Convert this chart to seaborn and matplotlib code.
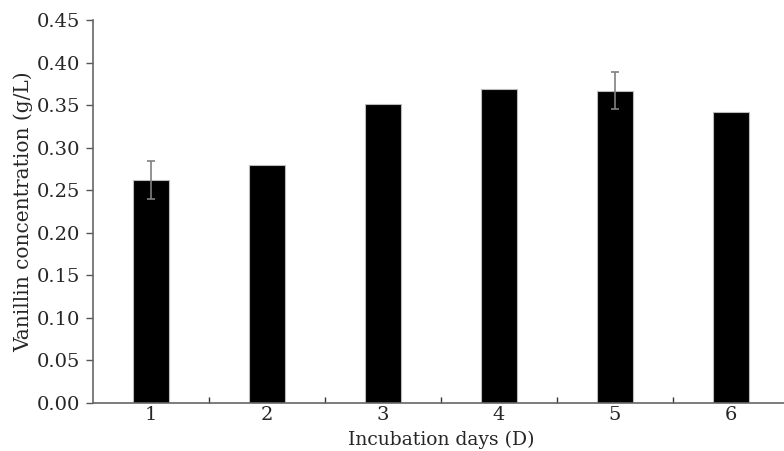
import pandas as pd
import seaborn as sns
import matplotlib.pyplot as plt
import numpy as np

# Data
days = ["1", "2", "3", "4", "5", "6"]
vanillin = [0.262, 0.280, 0.351, 0.369, 0.367, 0.342]
errors = [0.022, 0.0, 0.0, 0.0, 0.022, 0.0]

df = pd.DataFrame({"day": days, "vanillin": vanillin, "err": errors})

sns.set_style("white")
plt.rcParams["font.family"] = ["DejaVu Serif"]

fig = plt.figure(figsize=(7.84, 4.51), dpi=100)
ax = fig.add_axes([93 / 784, 48 / 451, 696 / 784, 383 / 451])

sns.barplot(data=df, x="day", y="vanillin", color="black", width=0.31,
            edgecolor="#bbbbbb", linewidth=0.8, saturation=1, ax=ax)

# error bars only where they were measured
with_err = df[df["err"] > 0]
ax.errorbar(with_err.index, with_err["vanillin"], yerr=with_err["err"],
            fmt="none", ecolor="#808080", elinewidth=1.2, capsize=3, capthick=1.2)

ax.set_xlim(-0.5, 5.5)
ax.set_ylim(0, 0.45)
ax.set_yticks(np.arange(0, 0.451, 0.05))
ax.set_yticklabels([f"{v:.2f}" for v in np.arange(0, 0.451, 0.05)])
ax.set_xticks(np.arange(0.5, 5, 1), minor=True)

ax.tick_params(axis="x", which="major", length=0, labelsize=14, pad=2)
ax.tick_params(axis="x", which="minor", bottom=True, direction="in", length=4, width=1, color="#333333")
ax.tick_params(axis="y", direction="out", length=5, width=1, color="#555555", labelsize=14, left=True, pad=4)

for s in ["top", "right"]:
    ax.spines[s].set_visible(False)
for s in ["left", "bottom"]:
    ax.spines[s].set_color("#666666")
    ax.spines[s].set_linewidth(1.2)

ax.set_xlabel("Incubation days (D)", fontsize=13.5, labelpad=5)
ax.set_ylabel("Vanillin concentration (g/L)", fontsize=14.5, labelpad=3)

fig.savefig("out.png", dpi=100)
